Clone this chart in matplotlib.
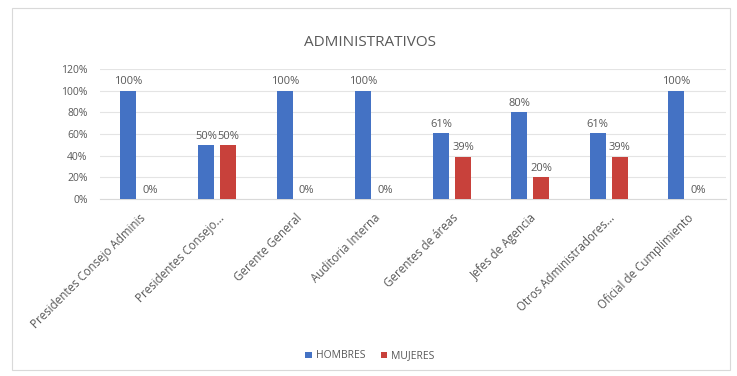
import matplotlib.pyplot as plt
import numpy as np
from matplotlib.patches import Rectangle

plt.rcParams['font.family'] = ['Open Sans', 'DejaVu Sans']

# Categories and values (percent)
categorias = [
    "Presidentes Consejo Adminis",
    "Presidentes Consejo...",
    "Gerente General",
    "Auditoria Interna",
    "Gerentes de áreas",
    "Jefes de Agencia",
    "Otros Administradores...",
    "Oficial de Cumplimiento",
]
hombres = [100, 50, 100, 100, 61, 80, 61, 100]
mujeres = [0, 50, 0, 0, 39, 20, 39, 0]

azul = "#4472C4"
rojo = "#C8413B"
gris = "#595959"

fig = plt.figure(figsize=(7.37, 3.76), dpi=100)
ax = fig.add_axes([100 / 737, 1 - 199 / 376, 626 / 737, 130 / 376])

# chart border
fig.patches.append(Rectangle((12 / 737, 6 / 376), 718 / 737, 362 / 376,
                             transform=fig.transFigure, fill=False,
                             edgecolor="#D9D9D9", linewidth=0.8))

x = np.arange(len(categorias))
w = 0.205
off = 0.14
b1 = ax.bar(x - off, hombres, w, color=azul, label="HOMBRES", zorder=3)
b2 = ax.bar(x + off, mujeres, w, color=rojo, label="MUJERES", zorder=3)

for bars, vals in [(b1, hombres), (b2, mujeres)]:
    for rect, v in zip(bars, vals):
        ax.text(rect.get_x() + rect.get_width() / 2, v + 3, f"{v}%",
                ha="center", va="bottom", fontsize=8, color=gris)

ax.set_xlim(-0.5, len(categorias) - 0.5)
ax.set_ylim(0, 120)
ax.set_yticks(np.arange(0, 121, 20))
ax.set_yticklabels([f"{t}%" for t in range(0, 121, 20)], fontsize=7.5, color=gris)
ax.yaxis.grid(True, color="#E4E4E4", linewidth=0.8, zorder=0)
ax.tick_params(axis="y", length=0, pad=9)
ax.tick_params(axis="x", length=0, pad=9)
ax.set_xticks(x)
ax.set_xticklabels(categorias, rotation=45, ha="right", rotation_mode="anchor",
                   fontsize=8.3, color=gris)
for s in ["top", "right", "left"]:
    ax.spines[s].set_visible(False)
ax.spines["bottom"].set_color("#D9D9D9")

fig.text(370 / 737, 1 - 42 / 376, "ADMINISTRATIVOS", ha="center", va="center",
         fontsize=11, color=gris)

fig.legend(handles=[b1, b2], loc="center", bbox_to_anchor=(370 / 737, 1 - 356 / 376),
           ncol=2, frameon=False, fontsize=7.5, handlelength=0.6, handleheight=0.6,
           columnspacing=1.5, handletextpad=0.4, labelcolor=gris)

fig.savefig("out.png", dpi=100, facecolor="white")
